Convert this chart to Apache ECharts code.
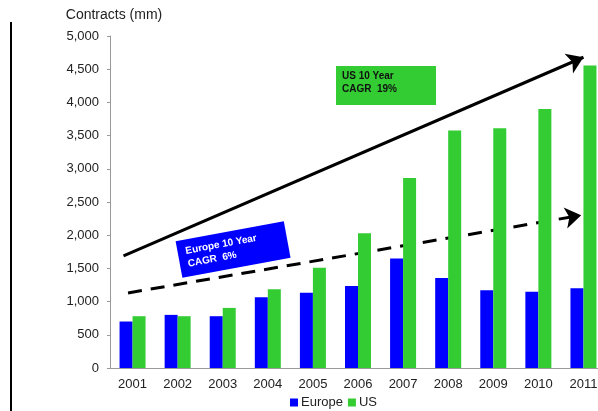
<!DOCTYPE html>
<html><head><meta charset="utf-8">
<script src="https://cdn.jsdelivr.net/npm/echarts@6/dist/echarts.min.js"></script>
<style>html,body{margin:0;padding:0;background:#fff}#c{width:598px;height:411px}</style>
</head><body><div id="c"></div>
<script>
const years = ['2001','2002','2003','2004','2005','2006','2007','2008','2009','2010','2011'];
const europe = [700, 800, 780, 1065, 1135, 1235, 1650, 1355, 1170, 1150, 1200];
const us = [780, 780, 905, 1185, 1510, 2030, 2860, 3575, 3610, 3900, 4555];
const yTicks = [0, 500, 1000, 1500, 2000, 2500, 3000, 3500, 4000, 4500, 5000];
// trend arrows: [category position, value]
const usTrend = [[-0.2, 1690], [10, 4680]];
const euTrend = [[-0.1, 1130], [9.95, 2300]];

const chart = echarts.init(document.getElementById('c'), null, {renderer:'canvas'});
const font = 'Liberation Sans, Arial, sans-serif';
chart.setOption({
  animation:false,
  textStyle:{fontFamily:font},
  grid:{left:110, top:36, width:496, bottom:43, containLabel:false, outerBoundsMode:'none'},
  legend:{data:['Europe','US'], bottom:2, left:290, padding:0, icon:'rect', itemWidth:8, itemHeight:8, itemGap:5,
    textStyle:{fontSize:13, color:'#222', fontFamily:font, padding:[0,0,0,-2]}},
  xAxis:[{type:'category', data:years, boundaryGap:true,
    axisLine:{onZero:false, lineStyle:{color:'#9a9a9a'}}, axisTick:{length:4, lineStyle:{color:'#9a9a9a'}},
    axisLabel:{fontSize:13, color:'#222', margin:10}},
   {type:'value', min:-0.5, max:10.5, show:false}],
  yAxis:{type:'value', min:0, max:5000, interval:500,
    name:'Contracts (mm)', nameLocation:'end', nameGap:14, nameTextStyle:{fontSize:14, color:'#222', align:'center', padding:[0,0,0,8]},
    axisLine:{show:true, onZero:false, lineStyle:{color:'#9a9a9a'}}, axisTick:{show:true, length:3, lineStyle:{color:'#9a9a9a'}},
    splitLine:{show:false},
    axisLabel:{fontSize:13, color:'#222', margin:11, formatter:v=>v.toLocaleString('en-US')}},
  series:[
    {name:'Europe', type:'bar', data:europe, barWidth:13, barGap:'0%', itemStyle:{color:'#0000ff'}},
    {name:'US', type:'bar', data:us, barWidth:13, itemStyle:{color:'#33cc33'}},
    {type:'lines', coordinateSystem:'cartesian2d', xAxisIndex:1, yAxisIndex:0, silent:true,
     symbol:['none','arrow'], symbolSize:[14,16],
     lineStyle:{color:'#000', width:3, opacity:1},
     data:[{coords:usTrend}]},
    {type:'lines', coordinateSystem:'cartesian2d', xAxisIndex:1, yAxisIndex:0, silent:true,
     symbol:['none','arrow'], symbolSize:[14,16],
     lineStyle:{color:'#000', width:3, type:[14,9], opacity:1},
     data:[{coords:euTrend}]}
  ],
  graphic:[
    {type:'line', shape:{x1:11, y1:22, x2:11, y2:411}, style:{stroke:'#000', lineWidth:2}},
    {type:'group', left:336, top:66, children:[
      {type:'rect', shape:{x:0, y:0, width:100, height:39}, style:{fill:'#33cc33'}},
      {type:'text', x:6, y:4, style:{text:'US 10 Year\nCAGR  19%', fill:'#111', font:'bold 10px '+font, lineHeight:13}}
    ]},
    {type:'group', x:233, y:249, rotation:10.5*Math.PI/180, children:[
      {type:'rect', shape:{x:-55, y:-18, width:110, height:37}, style:{fill:'#0000ff'}},
      {type:'text', x:-47, y:-13, style:{text:'Europe 10 Year\nCAGR  6%', fill:'#fff', font:'bold 10px '+font, lineHeight:13}}
    ]}
  ]
});
</script></body></html>
